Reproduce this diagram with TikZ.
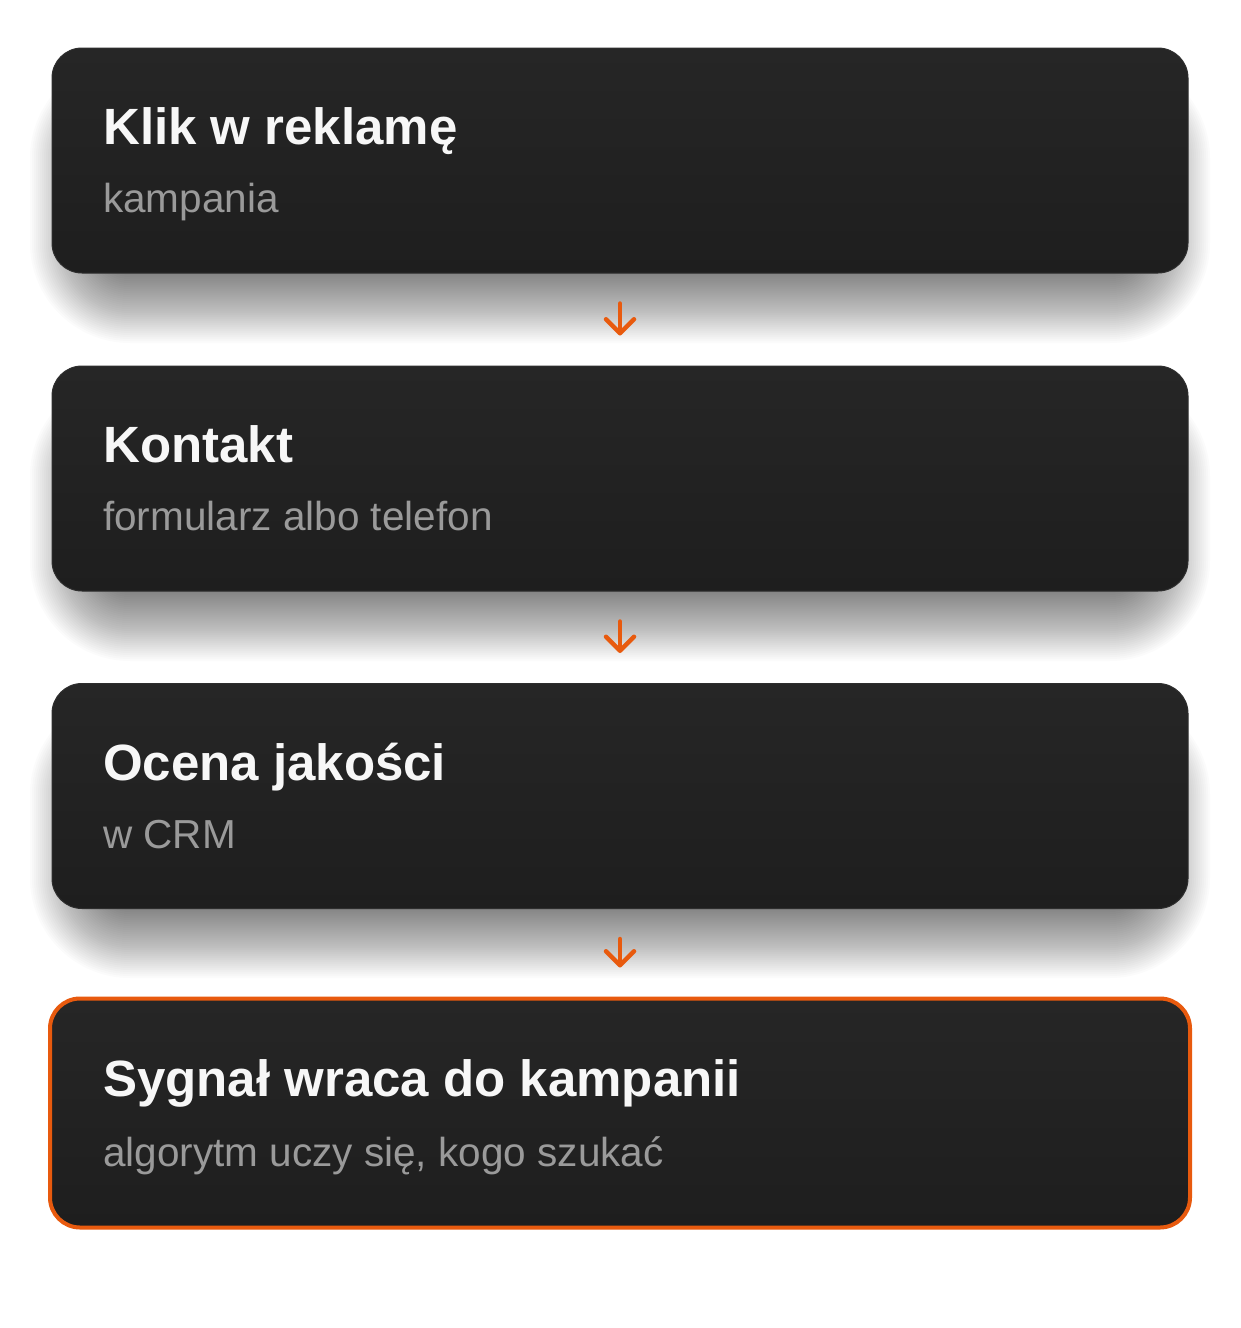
\documentclass[tikz,border=0pt]{standalone}
\usepackage{fontspec}
\setmainfont{Liberation Sans}
\usetikzlibrary{arrows.meta}
\definecolor{cardtop}{HTML}{262626}
\definecolor{cardbot}{HTML}{1E1E1E}
\definecolor{cardedge}{HTML}{2E2E2E}
\definecolor{accent}{HTML}{E85A0E}
\definecolor{subgray}{HTML}{9A9A9A}
\definecolor{titlewhite}{HTML}{F7F7F7}
\tikzset{
  card/.style={rectangle, rounded corners=30pt, minimum width=1136pt, minimum height=225pt,
    inner sep=0pt, top color=cardtop, bottom color=cardbot, draw=cardedge, line width=1pt},
  hicard/.style={card, draw=accent, line width=4pt, minimum width=1140pt, minimum height=229pt},
  ttl/.style={anchor=base west, inner sep=0pt, text=titlewhite, font=\fontsize{51}{60}\selectfont\bfseries},
  sub/.style={anchor=base west, inner sep=0pt, text=subgray, font=\fontsize{40.5}{48}\selectfont},
  flow/.style={draw=accent, line width=4.5pt, line cap=round, line join=round,
    -{Straight Barb[length=14pt, width=28pt, line cap=round, line join=round]}}
}
\newcommand{\cardshadow}[2]{%
  \foreach \k in {0,2,...,70} {%
    \pgfmathsetmacro{\rr}{30+\k}%
    \fill[black, opacity=0.0165, rounded corners=\rr pt] (100-\k, #1+80-\k) rectangle (1140+\k, #2+\k);
  }%
}
\begin{document}
\begin{tikzpicture}[x=1pt, y=-1pt]
\useasboundingbox (0,0) rectangle (1240,1328);
\fill[white] (0,0) rectangle (1240,1328);
% shadows
\cardshadow{48}{273}
\cardshadow{366}{591}
\cardshadow{684}{908}
% cards
\node[card] (c1) at (620,160.5) {};
\node[card] (c2) at (620,478.5) {};
\node[card] (c3) at (620,796) {};
\node[hicard] (c4) at (620,1113) {};
% texts
\node[ttl] (t1) at (103,144) {Klik w reklamę};
\node[sub] (s1) at (103,212) {kampania};
\node[ttl] (t2) at (103,462) {Kontakt};
\node[sub] (s2) at (103,530) {formularz albo telefon};
\node[ttl] (t3) at (103,780) {Ocena jakości};
\node[sub] (s3) at (103,848) {w CRM};
\node[ttl] (t4) at (103,1096) {Sygnał wraca do kampanii};
\node[sub] (s4) at (103,1166) {algorytm uczy się, kogo szukać};
% arrows
\draw[flow] ([yshift=-30pt]c1.south) -- ([yshift=30pt]c2.north);
\draw[flow] ([yshift=-30pt]c2.south) -- ([yshift=30pt]c3.north);
\draw[flow] ([yshift=-30pt]c3.south) -- ([yshift=29pt]c4.north);
\end{tikzpicture}
\end{document}
